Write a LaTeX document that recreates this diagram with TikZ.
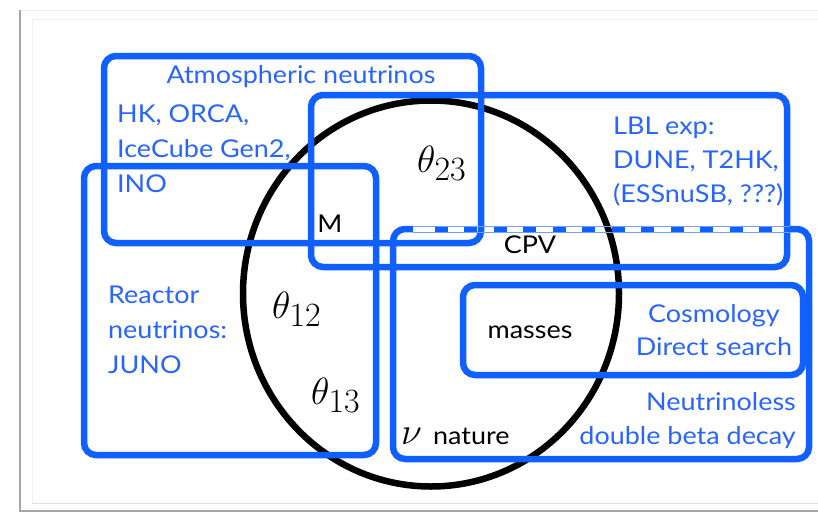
\RequirePackage{fix-cm}
\documentclass[tikz,border=0pt]{standalone}
\usepackage{fontspec}
\setmainfont{Lato}[FakeStretch=1.1]
\DeclareMathSizes{38}{38}{34}{26}
\definecolor{vblue}{RGB}{16,96,255}
\definecolor{tblue}{RGB}{40,100,255}
\begin{document}
\begin{tikzpicture}[x=1pt,y=-1pt,
  bluebox/.style={draw=vblue, line width=6.5pt, rounded corners=12pt},
  btxt/.style={text=tblue, font=\fontsize{24.5}{28}\selectfont, inner sep=0pt},
  ktxt/.style={text=black, font=\fontsize{24.5}{28}\selectfont, inner sep=0pt},
  mtxt/.style={text=black, font=\fontsize{38}{40}\selectfont, inner sep=0pt}]
\useasboundingbox (0,0) rectangle (818,514);
\fill[white] (0,0) rectangle (818,514);
% frame
\draw[black!8, line width=0.8pt] (20,10) -- (818,10);
\draw[black!6, line width=0.8pt] (32,503) -- (32,19) -- (818,19);
\draw[black!12, line width=0.8pt] (32,503) -- (818,503);
\draw[black!35, line width=2pt] (20,10) -- (20,511) -- (818,511);
% ellipse
\draw[black, line width=6.5pt] (431,293.5) ellipse [x radius=188, y radius=193];
% boxes
\draw[bluebox] (104,56) rectangle (481,243);
\draw[bluebox] (311,95) rectangle (787,267);
\draw[bluebox] (84,166) rectangle (376,455);
\draw[bluebox] (413,229) -- (393,229) -- (393,459) -- (809,459) -- (809,229) -- (790,229);
\draw[vblue, line width=6.5pt, dash pattern=on 13pt off 16.45pt] (435,229) -- (772,229);
\draw[vblue!60, line width=0.6pt] (413,226) -- (790,226);
\draw[vblue!60, line width=0.6pt] (413,232) -- (790,232);
\draw[bluebox] (463,285) rectangle (803,375);
% texts
\node[btxt, anchor=base] (atm) at (301,83) {Atmospheric neutrinos};
\node[btxt, anchor=base west] (hk) at (117,122) {HK, ORCA,};
\node[btxt, anchor=base west] (ice) at (117,157) {IceCube Gen2,};
\node[btxt, anchor=base west] (ino) at (117,192) {INO};
\node[btxt, anchor=base west] (lbl) at (613,134) {LBL exp:};
\node[btxt, anchor=base west] (dune) at (613,168) {DUNE, T2HK,};
\node[btxt, anchor=base west] (ess) at (613,202) {(ESSnuSB, ???)};
\node[btxt, anchor=base west] (rea) at (108,303) {Reactor};
\node[btxt, anchor=base west] (neu) at (108,338) {neutrinos:};
\node[btxt, anchor=base west] (juno) at (108,373) {JUNO};
\node[btxt, anchor=base] (cosmo) at (714,322) {Cosmology};
\node[btxt, anchor=base] (direct) at (714,355) {Direct search};
\node[btxt, anchor=base east] (nless) at (796,410) {Neutrinoless};
\node[btxt, anchor=base east] (dbd) at (796,444) {double beta decay};
\node[ktxt, anchor=base] (m) at (330,232) {M};
\node[ktxt, anchor=base] (cpv) at (530,253) {CPV};
\node[ktxt, anchor=base] (mass) at (530,338) {masses};
\node[ktxt, anchor=base west] (nat) at (433,444) {nature};
\node[mtxt, anchor=base west] (nu) at (401,444) {$\nu$};
\node[mtxt, anchor=base west] (t23) at (417,172) {$\theta_{23}$};
\node[mtxt, anchor=base west] (t12) at (272,318) {$\theta_{12}$};
\node[mtxt, anchor=base west] (t13) at (311,404) {$\theta_{13}$};
\end{tikzpicture}
\end{document}
